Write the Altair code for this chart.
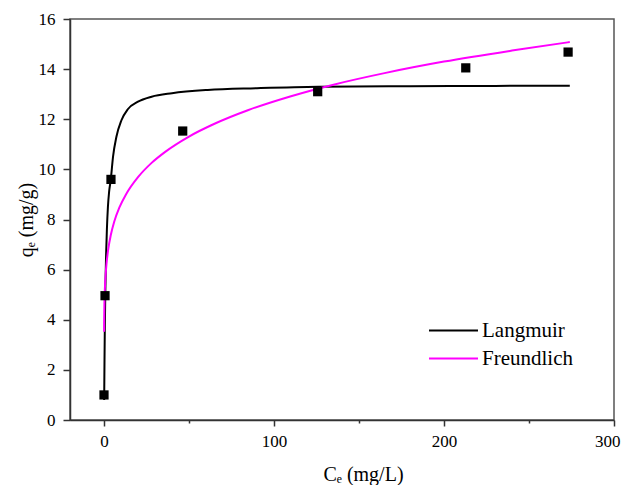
import altair as alt
import pandas as pd

# Experimental data (Ce mg/L, qe mg/g)
obs_c = [0.0, 0.6, 4.1, 46.3, 125.7, 212.8, 273.0]
obs_q = [1.0, 4.96, 9.6, 11.53, 13.1, 14.05, 14.68]

# Langmuir fitted curve
lang_c = [0.1, 0.3, 0.5, 0.8, 1.2, 1.7, 2.3, 3.0, 4.0, 5.3, 7.3, 10.2, 14.0, 20.0,
          28.0, 40.0, 61.0, 90.0, 126.0, 180.0, 230.0, 274.0]
lang_q = [0.8, 2.4, 3.8, 5.2, 6.5, 7.6, 8.5, 9.1, 9.6, 10.5, 11.3, 11.95, 12.4, 12.7,
          12.9, 13.04, 13.17, 13.24, 13.3, 13.32, 13.33, 13.34]

# Freundlich fitted curve
freu_c = [0.05, 0.1, 0.2, 0.4, 0.7, 1.0, 1.5, 2.5, 4.0, 6.0, 9.0, 13.0, 20.0, 28.0,
          36.0, 50.0, 65.0, 85.0, 110.0, 135.0, 165.0, 200.0, 240.0, 274.0]
freu_q = [3.52, 3.96, 4.45, 5.0, 5.5, 5.84, 6.25, 6.82, 7.38, 7.91, 8.47, 9.01, 9.69, 10.26,
          10.7, 11.31, 11.82, 12.37, 12.92, 13.38, 13.84, 14.3, 14.74, 15.08]

models = ["Langmuir", "Freundlich"]
model_colors = ["#000000", "#FF00FF"]

x_ticks = [0, 50, 100, 150, 200, 250, 300]
y_ticks = list(range(0, 17))

obs = pd.DataFrame({"c": obs_c, "q": obs_q})
lines = pd.concat([
    pd.DataFrame({"c": lang_c, "q": lang_q, "model": "Langmuir", "order": range(len(lang_c))}),
    pd.DataFrame({"c": freu_c, "q": freu_q, "model": "Freundlich", "order": range(len(freu_c))}),
])

FONT = "Liberation Serif"

x_scale = alt.Scale(domain=[-20, 300], nice=False, zero=False)
y_scale = alt.Scale(domain=[0, 16], nice=False)

x_axis = alt.Axis(
    values=x_ticks, title="Cₑ (mg/L)", grid=False, labelFlush=True, labelFlushOffset=6,
    labelExpr="datum.value % 100 == 0 ? datum.label : ''",
    tickSize={"condition": {"test": "datum.value % 100 != 0", "value": 3}, "value": 6},
    labelPadding=7, titleX=293, titleY=60, titleBaseline="alphabetic",
)
y_axis = alt.Axis(
    values=y_ticks, title="qₑ (mg/g)", grid=False, labelFlush=False,
    labelExpr="datum.value % 2 == 0 ? datum.label : ''",
    tickSize={"condition": {"test": "datum.value % 2 != 0", "value": 3.5}, "value": 7},
    labelPadding=8, titleX=-38, titleBaseline="alphabetic",
)

line_layer = alt.Chart(lines).mark_line(strokeWidth=2, interpolate="monotone").encode(
    x=alt.X("c:Q", scale=x_scale, axis=x_axis),
    y=alt.Y("q:Q", scale=y_scale, axis=y_axis),
    color=alt.Color("model:N", scale=alt.Scale(domain=models, range=model_colors),
                    legend=alt.Legend(title=None, orient="none", legendX=370, legendY=298,
                                      symbolType="M-2,0H2", symbolSize=600, symbolStrokeWidth=2,
                                      labelFontSize=21, labelFont=FONT, labelOffset=15,
                                      labelColor="black",
                                      padding=0, rowPadding=4)),
    order="order:Q",
)

point_layer = alt.Chart(obs).mark_point(shape="square", filled=True, size=85, color="black", opacity=1).encode(
    x=alt.X("c:Q", scale=x_scale),
    y=alt.Y("q:Q", scale=y_scale),
)

chart = alt.layer(line_layer, point_layer).properties(
    width=544, height=401,
    background="white",
    autosize=alt.AutoSizeParams(type="none"),
    padding={"left": 62, "top": 11, "right": 7, "bottom": 65},
).configure_view(
    stroke="#555555", strokeWidth=1.5, fill="white"
).configure_axis(
    labelFont=FONT, titleFont=FONT, labelFontSize=17, titleFontSize=20,
    labelColor="black", titleColor="black", titleFontWeight="normal",
    domainColor="#333333", domainWidth=1.5, tickColor="#333333", tickWidth=1.5,
)

chart.save("out.html", embed_options={"renderer": "svg", "actions": False})
